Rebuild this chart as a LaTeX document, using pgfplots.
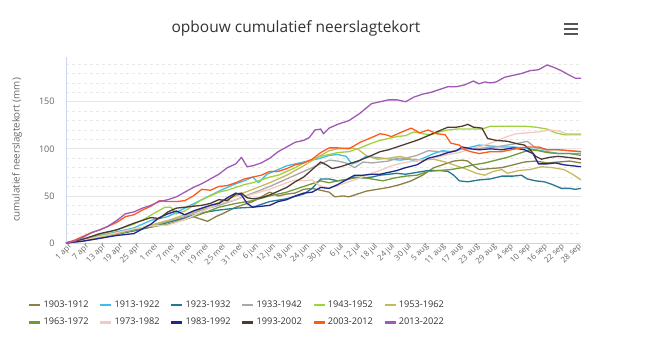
\documentclass[border=0pt]{standalone}
\usepackage{pgfplots}
\pgfplotsset{compat=1.18}
\usepackage{fontspec}
\setmainfont{Open Sans}
\definecolor{cA}{RGB}{139,128,72}
\definecolor{cB}{RGB}{61,189,232}
\definecolor{cC}{RGB}{37,120,143}
\definecolor{cD}{RGB}{168,168,168}
\definecolor{cE}{RGB}{160,210,60}
\definecolor{cF}{RGB}{200,185,90}
\definecolor{cG}{RGB}{111,154,56}
\definecolor{cH}{RGB}{245,201,191}
\definecolor{cI}{RGB}{30,40,140}
\definecolor{cJ}{RGB}{77,58,48}
\definecolor{cK}{RGB}{255,90,30}
\definecolor{cL}{RGB}{160,90,180}
\definecolor{axline}{RGB}{204,214,235}
\definecolor{txt}{RGB}{102,102,102}
\definecolor{ttl}{RGB}{51,51,51}
\definecolor{menu}{RGB}{85,85,85}
\definecolor{gmaj}{RGB}{230,230,230}
\definecolor{gmin}{RGB}{232,232,232}
\begin{document}
\begin{tikzpicture}[x=1pt,y=1pt]
\path[use as bounding box] (0,0) rectangle (661,357);
\node[font=\fontsize{15.5}{18}\selectfont, text=ttl] at (296,329) {opbouw cumulatief neerslagtekort};
\foreach \yy in {323,328,333} {\draw[line width=2pt, menu] (564,\yy) -- (578,\yy);}
\begin{axis}[
  at={(66pt,114pt)}, anchor=south west,
  width=515pt, height=186pt, scale only axis,
  xmin=0, xmax=182, ymin=0, ymax=197.5,
  axis x line*=bottom, axis y line*=left,
  axis line style={axline, line width=0.8pt, -},
  ytick={0,50,100,150},
  minor ytick={10,20,30,40,60,70,80,90,110,120,130,140,160,170,180,190},
  ymajorgrids, yminorgrids,
  major grid style={color=gmaj, line width=0.8pt},
  minor grid style={color=gmin, dashed, line width=0.6pt},
  major tick length=0pt, minor tick length=0pt,
  /pgf/number format/assume math mode=true,
  xtick={0,6,...,180},
  xticklabels={1 apr,7 apr,13 apr,19 apr,25 apr,1 mei,7 mei,13 mei,19 mei,25 mei,31 mei,6 jun,12 jun,18 jun,24 jun,30 jun,6 jul,12 jul,18 jul,24 jul,30 jul,5 aug,11 aug,17 aug,23 aug,29 aug,4 sep,10 sep,16 sep,22 sep,28 sep},
  ticklabel style={font=\fontsize{8}{9.5}\selectfont, text=txt},
  xticklabel style={rotate=45, anchor=east, yshift=-5pt, xshift=2pt, inner sep=0pt},
  yticklabel style={font=\fontsize{9}{10}\selectfont, xshift=-8pt},
  ylabel={cumulatief neerslagtekort (mm)},
  ylabel style={at={(axis description cs:-0.095,0.5)}, anchor=center, font=\fontsize{9.8}{11}\selectfont, text=txt},
  legend columns=6,
  legend cell align=left,
  legend image code/.code={\draw[line width=2.5pt] (0pt,0pt) -- (11pt,0pt);},
  legend style={at={(-0.074,-0.30)}, anchor=north west, draw=none, fill=none, inner sep=0pt,
    font=\fontsize{9.2}{11}\selectfont, text=ttl, row sep=5pt,
    /tikz/every even column/.append style={column sep=8.5pt}},
  every axis plot/.append style={line width=1.3pt, line join=round},
]
\addplot[cA] coordinates {(0,0) (6,2) (12,5) (18,9) (24,13) (30,17) (36,22) (42,26) (45,28) (48,25) (50,23) (53,28) (56,32) (60,38) (63,41) (66,44) (69,49) (72,54) (75,50) (78,52) (81,53) (84,57) (87,58) (90,56) (93,54) (95,49) (98,50) (100,49) (103,52) (106,55) (110,57) (114,59) (118,62) (122,66) (126,72) (130,80) (134,84) (137,87) (140,88) (142,87) (144,82) (146,78) (150,79) (154,80) (158,83) (162,86) (166,87) (170,85) (174,86) (178,87) (182,85)};
\addlegendentry{1903-1912}
\addplot[cB] coordinates {(0,0) (6,4) (12,8) (18,12) (24,16) (30,24) (36,28) (42,37) (48,46) (54,55) (60,63) (63,66) (66,70) (68,64) (71,73) (75,78) (78,82) (81,84) (84,86) (87,88) (90,90) (93,93) (96,94) (99,92) (101,84) (103,86) (106,92) (109,91) (112,90) (115,89) (118,88) (121,89) (124,87) (127,91) (130,95) (133,98) (136,97) (139,99) (142,101) (146,104) (150,103) (154,102) (158,102) (162,101) (166,99) (170,97) (174,95) (178,95) (182,95)};
\addlegendentry{1913-1922}
\addplot[cC] coordinates {(0,0) (6,3) (12,7) (18,10) (24,13) (30,17) (36,22) (42,27) (48,32) (54,35) (60,37) (66,38) (72,44) (78,47) (84,52) (87,58) (90,68) (93,68) (96,66) (99,67) (102,70) (105,69) (108,70) (111,72) (114,73) (117,74) (120,73) (124,75) (128,77) (132,77) (135,76) (137,72) (139,66) (142,65) (146,67) (150,68) (154,71) (158,71) (161,72) (163,68) (166,66) (169,65) (172,62) (175,58) (178,58) (180,57) (182,58)};
\addlegendentry{1923-1932}
\addplot[cD] coordinates {(0,0) (6,3) (12,7) (18,10) (24,14) (30,18) (36,23) (42,28) (48,35) (54,40) (60,46) (66,53) (72,60) (78,68) (84,76) (90,84) (93,88) (96,87) (99,85) (102,80) (105,86) (108,85) (111,86) (114,87) (117,90) (120,90) (124,93) (128,98) (132,97) (136,97) (140,100) (144,100) (148,101) (152,102) (156,104) (160,106) (163,108) (166,101) (170,99) (174,99) (178,98) (182,97)};
\addlegendentry{1933-1942}
\addplot[cE] coordinates {(0,0) (6,4) (12,9) (18,14) (24,20) (28,26) (32,33) (35,38) (37,38) (39,31) (42,34) (45,40) (48,46) (51,50) (54,54) (57,56) (60,59) (63,62) (66,64) (69,67) (72,70) (75,72) (78,76) (81,80) (84,85) (87,89) (90,92) (93,94) (96,96) (100,97) (104,101) (108,106) (111,109) (114,111) (117,113) (120,114) (123,118) (126,116) (129,115) (132,118) (135,120) (138,121) (141,121) (144,121) (147,121) (150,124) (154,124) (158,124) (162,124) (166,123) (170,121) (173,117) (176,115) (179,115) (182,115)};
\addlegendentry{1943-1952}
\addplot[cF] coordinates {(0,0) (6,3) (12,6) (18,10) (24,14) (30,19) (36,24) (42,30) (48,36) (54,43) (60,50) (66,57) (72,64) (78,72) (84,82) (90,93) (93,98) (96,100) (100,101) (103,100) (106,93) (110,89) (114,90) (118,92) (122,89) (126,88) (130,89) (134,86) (138,82) (141,79) (145,74) (148,72) (151,76) (154,78) (156,74) (160,77) (164,78) (168,81) (172,80) (176,78) (179,73) (182,67)};
\addlegendentry{1953-1962}
\addplot[cG] coordinates {(0,0) (6,3) (12,7) (18,11) (24,14) (30,17) (36,20) (42,25) (48,31) (54,38) (60,42) (66,45) (72,50) (78,54) (84,60) (90,66) (93,64) (96,66) (100,68) (104,70) (108,68) (112,66) (116,69) (120,71) (124,72) (128,76) (132,77) (136,78) (140,80) (144,83) (148,85) (152,88) (156,91) (160,95) (164,99) (167,98) (170,96) (174,95) (178,95) (182,93)};
\addlegendentry{1963-1972}
\addplot[cH] coordinates {(0,0) (6,3) (12,7) (18,11) (24,15) (30,18) (36,19) (42,25) (48,33) (54,42) (60,46) (66,52) (72,57) (78,64) (81,67) (84,66) (87,67) (89,62) (92,58) (95,60) (99,64) (103,68) (107,73) (111,77) (115,82) (119,85) (123,87) (127,89) (131,91) (135,94) (139,96) (143,100) (147,103) (151,107) (155,112) (159,116) (163,117) (167,118) (171,120) (174,119) (177,116) (182,116)};
\addlegendentry{1973-1982}
\addplot[cI] coordinates {(0,0) (6,2) (12,5) (18,8) (24,10) (27,15) (30,20) (33,27) (36,31) (39,34) (42,30) (45,34) (48,37) (51,40) (54,42) (57,48) (60,53) (62,51) (64,42) (66,38) (69,39) (72,40) (75,44) (78,46) (81,50) (84,53) (87,54) (90,59) (93,58) (96,62) (99,67) (102,72) (105,72) (108,73) (111,73) (114,75) (117,77) (120,80) (124,83) (128,90) (132,93) (135,96) (138,98) (140,102) (143,100) (146,99) (150,100) (154,99) (158,101) (162,99) (165,95) (167,84) (170,84) (173,85) (176,83) (179,82) (182,81)};
\addlegendentry{1983-1992}
\addplot[cJ] coordinates {(0,0) (6,4) (12,10) (18,14) (24,21) (27,24) (30,27) (33,26) (36,33) (39,37) (42,38) (45,39) (48,40) (51,42) (54,46) (57,45) (60,52) (62,53) (64,48) (66,47) (69,48) (72,51) (75,55) (78,59) (81,65) (84,70) (87,78) (90,86) (92,83) (94,79) (97,81) (100,84) (104,88) (108,93) (111,97) (114,99) (117,102) (120,105) (124,109) (128,114) (131,118) (135,123) (138,123) (140,124) (142,126) (144,123) (147,122) (149,111) (152,109) (156,108) (160,105) (162,104) (164,99) (166,92) (168,89) (171,91) (174,92) (177,91) (180,90) (182,89)};
\addlegendentry{1993-2002}
\addplot[cK] coordinates {(0,0) (3,3) (6,7) (9,11) (12,14) (15,18) (18,22) (21,28) (24,30) (27,35) (30,39) (33,45) (36,44) (39,44) (42,45) (45,50) (48,57) (51,56) (54,60) (57,61) (60,64) (63,68) (66,70) (69,72) (72,76) (75,76) (78,79) (81,83) (84,85) (87,89) (90,96) (93,101) (96,101) (100,100) (104,107) (108,112) (111,116) (113,115) (115,113) (118,117) (122,122) (125,117) (128,120) (131,116) (134,115) (136,106) (139,104) (141,99) (143,97) (146,95) (150,97) (154,97) (159,100) (163,102) (167,102) (170,99) (174,99) (178,98) (182,97)};
\addlegendentry{2003-2012}
\addplot[cL] coordinates {(0,0) (3,2) (6,6) (9,11) (12,14) (15,18) (18,24) (21,31) (24,33) (27,37) (30,40) (33,44) (36,46) (39,49) (42,54) (45,59) (48,63) (51,68) (54,73) (57,80) (60,84) (62,91) (64,81) (66,82) (69,85) (72,90) (75,97) (78,102) (81,107) (84,109) (86,112) (88,120) (90,121) (91,116) (93,122) (96,126) (100,130) (104,138) (108,148) (111,150) (114,152) (117,152) (120,150) (123,155) (126,158) (129,160) (132,163) (135,166) (138,166) (141,168) (144,172) (146,169) (148,171) (150,170) (152,171) (155,176) (158,178) (161,180) (164,183) (167,184) (170,189) (172,187) (175,183) (178,178) (180,175) (182,175)};
\addlegendentry{2013-2022}
\end{axis}
\end{tikzpicture}
\end{document}
